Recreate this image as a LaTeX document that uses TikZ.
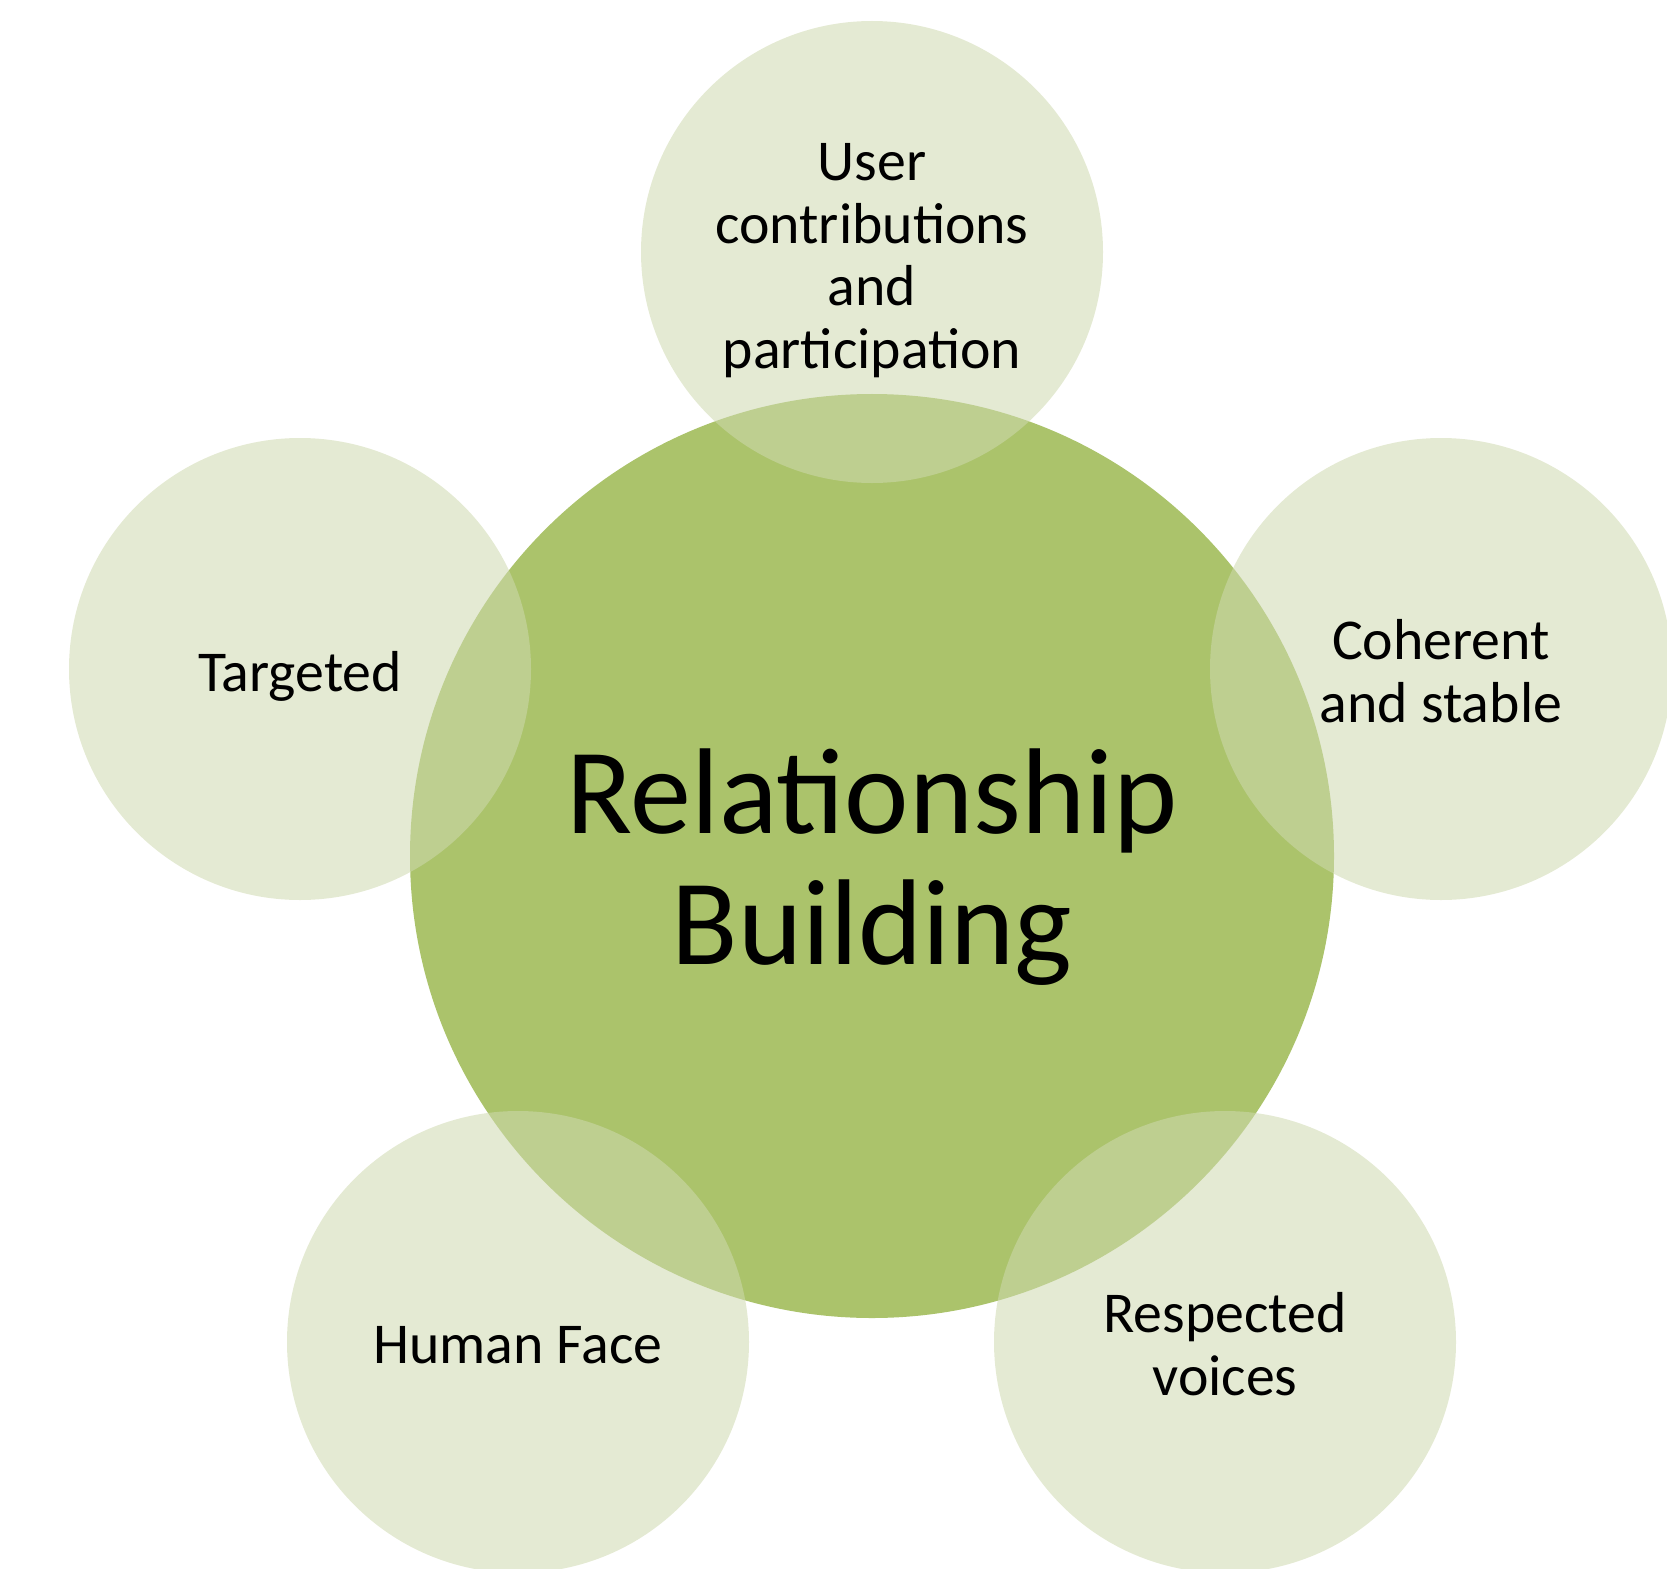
\documentclass[tikz,border=0pt]{standalone}
\usepackage{fontspec}
\setmainfont{Carlito}
\definecolor{centralgreen}{RGB}{171,195,107}
\definecolor{satfill}{RGB}{206,217,175}
\tikzset{
  hub/.style={circle, fill=centralgreen, minimum size=924bp, inner sep=0pt},
  hubtext/.style={align=center, inner sep=0pt, font=\fontsize{122.5}{131}\selectfont},
  sat/.style={circle, fill=satfill, fill opacity=0.55, minimum size=462bp, inner sep=0pt},
  sattext/.style={align=center, inner sep=0pt, font=\fontsize{58}{63}\selectfont},
}
\begin{document}
\begin{tikzpicture}[x=1bp,y=-1bp]
\useasboundingbox (0,0) rectangle (1667,1569);
\node[hub] (hub) at (872,856) {};
\node[sat] (top) at (872,252) {};
\node[sat] (left) at (300,669) {};
\node[sat] (right) at (1441,669) {};
\node[sat] (bl) at (518,1342) {};
\node[sat] (br) at (1225,1342) {};
\node[hubtext] (hubt) at ([yshift=-11bp]hub.center) {Relationship\\Building};
\node[sattext] (topt) at ([yshift=-8.5bp]top.center) {User\\contributions\\and\\participation};
\node[sattext] (leftt) at ([yshift=-7.5bp]left.center) {Targeted};
\node[sattext] (rightt) at ([yshift=-2.5bp]right.center) {Coherent\\and stable};
\node[sattext] (blt) at ([yshift=-3bp]bl.center) {Human Face};
\node[sattext] (brt) at ([yshift=-2.5bp]br.center) {Respected\\voices};
\end{tikzpicture}
\end{document}
